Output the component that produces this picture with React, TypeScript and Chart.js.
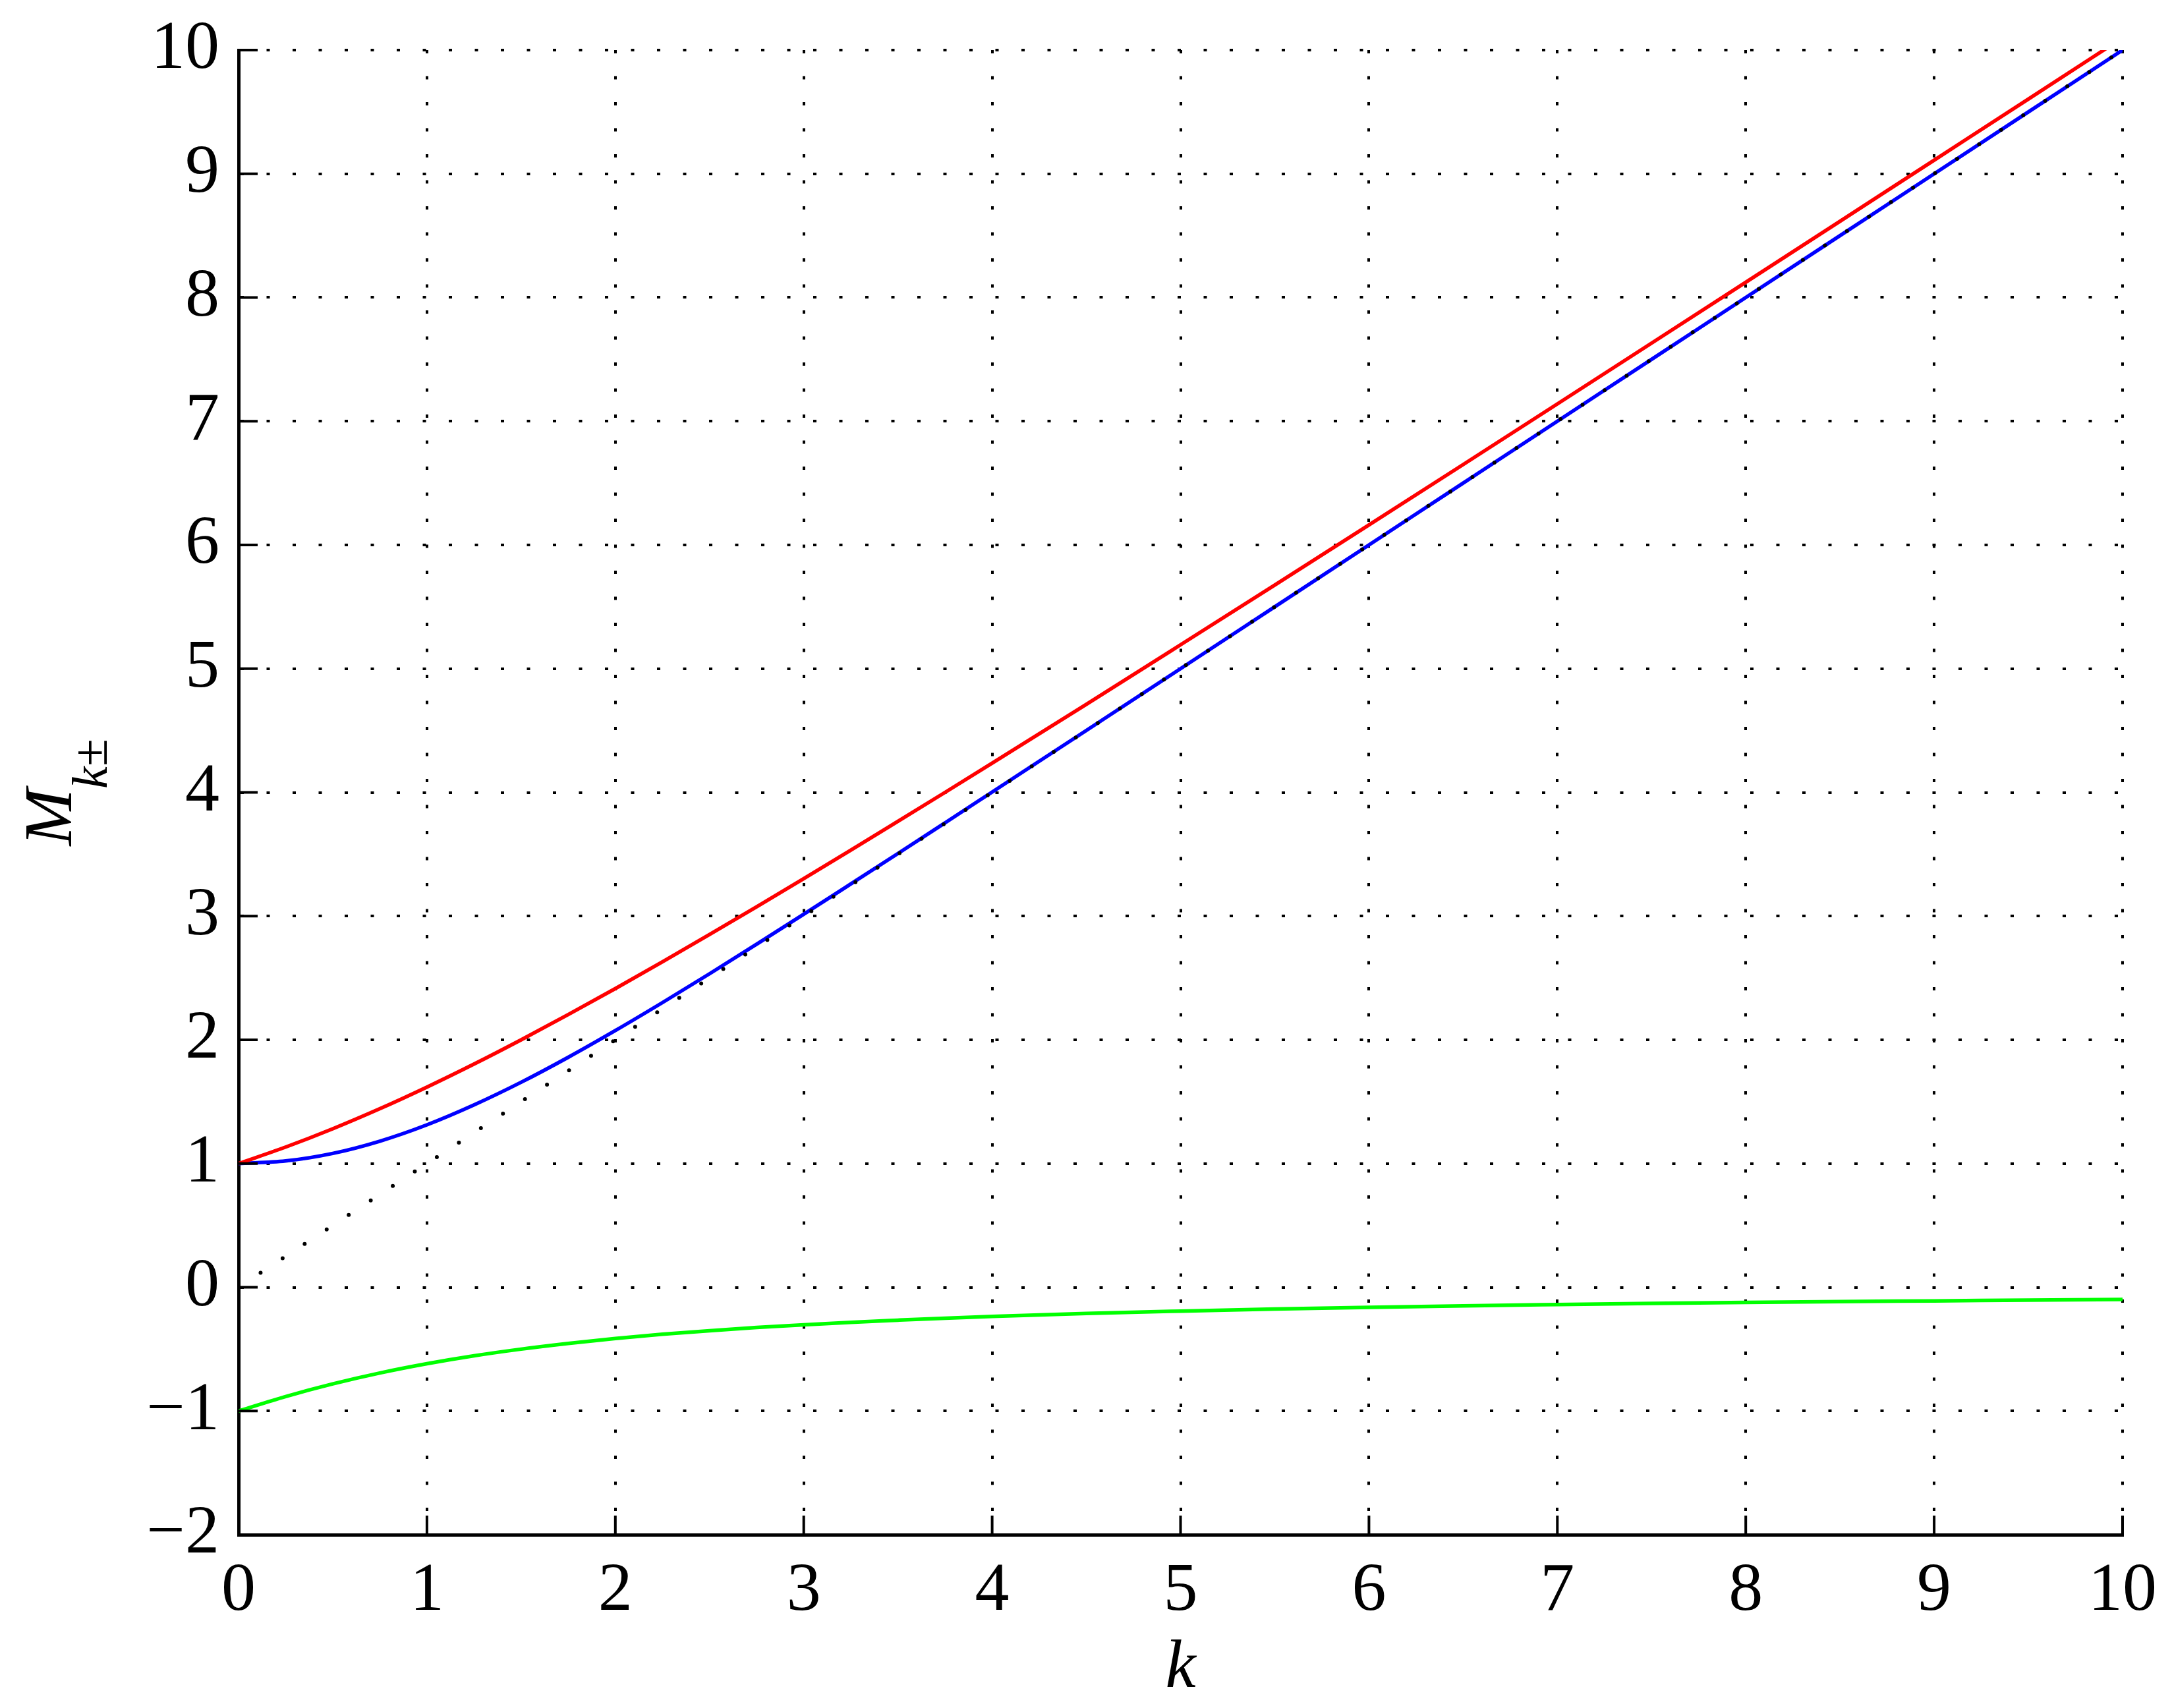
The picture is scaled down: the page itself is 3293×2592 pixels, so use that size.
import React, { useEffect, useRef } from 'react';
import { Chart, registerables } from 'chart.js';

Chart.register(...registerables);

// k values (horizontal axis)
const kValues = [0, 0.25, 0.5, 0.75, 1, 1.25, 1.5, 1.75, 2, 2.25, 2.5, 2.75, 3, 3.25, 3.5, 3.75, 4, 4.5, 5, 5.5, 6, 6.5, 7, 7.5, 8, 8.5, 9, 9.5, 10];
// red branch
const redValues = [1, 1.133, 1.281, 1.443, 1.618, 1.804, 2.0, 2.204, 2.414, 2.63, 2.851, 3.075, 3.303, 3.533, 3.766, 4.0, 4.236, 4.712, 5.193, 5.676, 6.162, 6.65, 7.14, 7.631, 8.123, 8.616, 9.11, 9.604, 10.099];
// blue branch
const blueValues = [1, 1.021, 1.082, 1.181, 1.313, 1.474, 1.657, 1.859, 2.075, 2.301, 2.534, 2.773, 3.015, 3.26, 3.506, 3.754, 4.003, 4.501, 5.0, 5.5, 6, 6.5, 7, 7.5, 8, 8.5, 9, 9.5, 10];
// green branch
const greenValues = [-1, -0.883, -0.781, -0.693, -0.618, -0.554, -0.5, -0.454, -0.414, -0.38, -0.351, -0.325, -0.303, -0.283, -0.266, -0.25, -0.236, -0.212, -0.193, -0.176, -0.162, -0.15, -0.14, -0.131, -0.123, -0.116, -0.11, -0.104, -0.099];
// dotted reference line M = k
const refK = [0, 10];
const refValues = [0, 10];

const xTickValues = [0, 1, 2, 3, 4, 5, 6, 7, 8, 9, 10];
const xTickLabels = ['0', '1', '2', '3', '4', '5', '6', '7', '8', '9', '10'];
const yTickValues = [-2, -1, 0, 1, 2, 3, 4, 5, 6, 7, 8, 9, 10];
const yTickLabels = ['\u22122', '\u22121', '0', '1', '2', '3', '4', '5', '6', '7', '8', '9', '10'];

const xAxisTitle = 'k';
const yAxisTitleMain = 'M';
const yAxisTitleSub = 'k\u00b1';

const W = 3293;
const H = 2592;
const FONT = '"Liberation Serif", "Times New Roman", serif';

const pts = (xs: number[], ys: number[]) => xs.map((x, i) => ({ x, y: ys[i] }));

const zeroPadding = (s: any) => {
  s.paddingTop = 0;
  s.paddingBottom = 0;
  s.paddingLeft = 0;
  s.paddingRight = 0;
};

const decorPlugin = {
  id: 'decor',
  afterDraw(chart: any) {
    const ctx = chart.ctx;
    const area = chart.chartArea;
    const xs = chart.scales.x;
    const ys = chart.scales.y;
    ctx.save();
    // inward tick marks
    ctx.strokeStyle = '#000';
    ctx.lineWidth = 4;
    ctx.beginPath();
    yTickValues.forEach((v) => {
      const p = ys.getPixelForValue(v);
      ctx.moveTo(area.left, p);
      ctx.lineTo(area.left + 29, p);
    });
    xTickValues.forEach((v) => {
      const p = xs.getPixelForValue(v);
      ctx.moveTo(p, area.bottom);
      ctx.lineTo(p, area.bottom - 29);
    });
    ctx.stroke();

    // x axis title
    ctx.fillStyle = '#000';
    ctx.font = `italic 104px ${FONT}`;
    ctx.textAlign = 'center';
    ctx.textBaseline = 'alphabetic';
    ctx.fillText(xAxisTitle, (area.left + area.right) / 2, 2560);

    // y axis title, rotated, with subscript
    const mainFont = `italic 104px ${FONT}`;
    const subFont = `italic 76px ${FONT}`;
    ctx.font = mainFont;
    const wMain = ctx.measureText(yAxisTitleMain).width;
    ctx.font = subFont;
    const wSub = ctx.measureText(yAxisTitleSub).width;
    const total = wMain + wSub;
    const cy = (area.top + area.bottom) / 2;
    ctx.translate(108, cy + total / 2);
    ctx.rotate(-Math.PI / 2);
    ctx.textAlign = 'left';
    ctx.font = mainFont;
    ctx.fillText(yAxisTitleMain, 0, 0);
    ctx.font = subFont;
    ctx.fillText(yAxisTitleSub, wMain, 54);
    ctx.restore();
  },
};

export default function App() {
  const ref = useRef<HTMLCanvasElement | null>(null);

  useEffect(() => {
    const canvas = ref.current;
    if (!canvas) return;
    const chart = new Chart(canvas, {
      type: 'line',
      data: {
        datasets: [
          {
            label: 'M = k',
            data: pts(refK, refValues),
            borderColor: '#000000',
            borderWidth: 6,
            borderDash: [0, 40],
            borderCapStyle: 'round',
            pointRadius: 0,
            fill: false,
          },
          {
            label: 'red',
            data: pts(kValues, redValues),
            borderColor: '#ff0000',
            borderWidth: 5.5,
            pointRadius: 0,
            cubicInterpolationMode: 'monotone',
            fill: false,
          },
          {
            label: 'blue',
            data: pts(kValues, blueValues),
            borderColor: '#0000ff',
            borderWidth: 5.5,
            pointRadius: 0,
            cubicInterpolationMode: 'monotone',
            fill: false,
          },
          {
            label: 'green',
            data: pts(kValues, greenValues),
            borderColor: '#00ff00',
            borderWidth: 5.5,
            pointRadius: 0,
            cubicInterpolationMode: 'monotone',
            fill: false,
          },
        ],
      },
      options: {
        animation: false,
        responsive: false,
        devicePixelRatio: 1,
        clip: 0,
        layout: { padding: { top: 76, right: 72, left: 0, bottom: 0 } },
        plugins: {
          legend: { display: false },
          tooltip: { enabled: false },
          title: { display: false },
        },
        scales: {
          x: {
            type: 'linear',
            min: 0,
            max: 10,
            afterFit: (s: any) => {
              s.height = 263;
              zeroPadding(s);
            },
            afterBuildTicks: (s: any) => {
              s.ticks = xTickValues.map((v) => ({ value: v }));
            },
            ticks: {
              autoSkip: false,
              maxRotation: 0,
              padding: 24,
              color: '#000',
              font: { family: FONT, size: 104 },
              callback: (v: any) => xTickLabels[xTickValues.indexOf(Number(v))] ?? '',
            },
            grid: { color: '#000', lineWidth: 4, drawTicks: false },
            border: { display: true, color: '#000', width: 5, dash: [5, 34.5] },
          },
          y: {
            type: 'linear',
            min: -2,
            max: 10,
            afterFit: (s: any) => {
              s.width = 362;
              zeroPadding(s);
            },
            afterBuildTicks: (s: any) => {
              s.ticks = yTickValues.map((v) => ({ value: v }));
            },
            ticks: {
              autoSkip: false,
              padding: 29,
              color: '#000',
              font: { family: FONT, size: 104 },
              callback: (v: any) => yTickLabels[yTickValues.indexOf(Number(v))] ?? '',
            },
            grid: { color: '#000', lineWidth: 4, drawTicks: false },
            border: { display: true, color: '#000', width: 5, dash: [5, 34.5] },
          },
        },
      },
      plugins: [decorPlugin],
    } as any);
    return () => chart.destroy();
  }, []);

  return (
    <div style={{ position: 'absolute', left: 0, top: 0, width: W, height: H, background: '#fff' }}>
      <canvas ref={ref} width={W} height={H} style={{ width: W, height: H, display: 'block' }} />
    </div>
  );
}
